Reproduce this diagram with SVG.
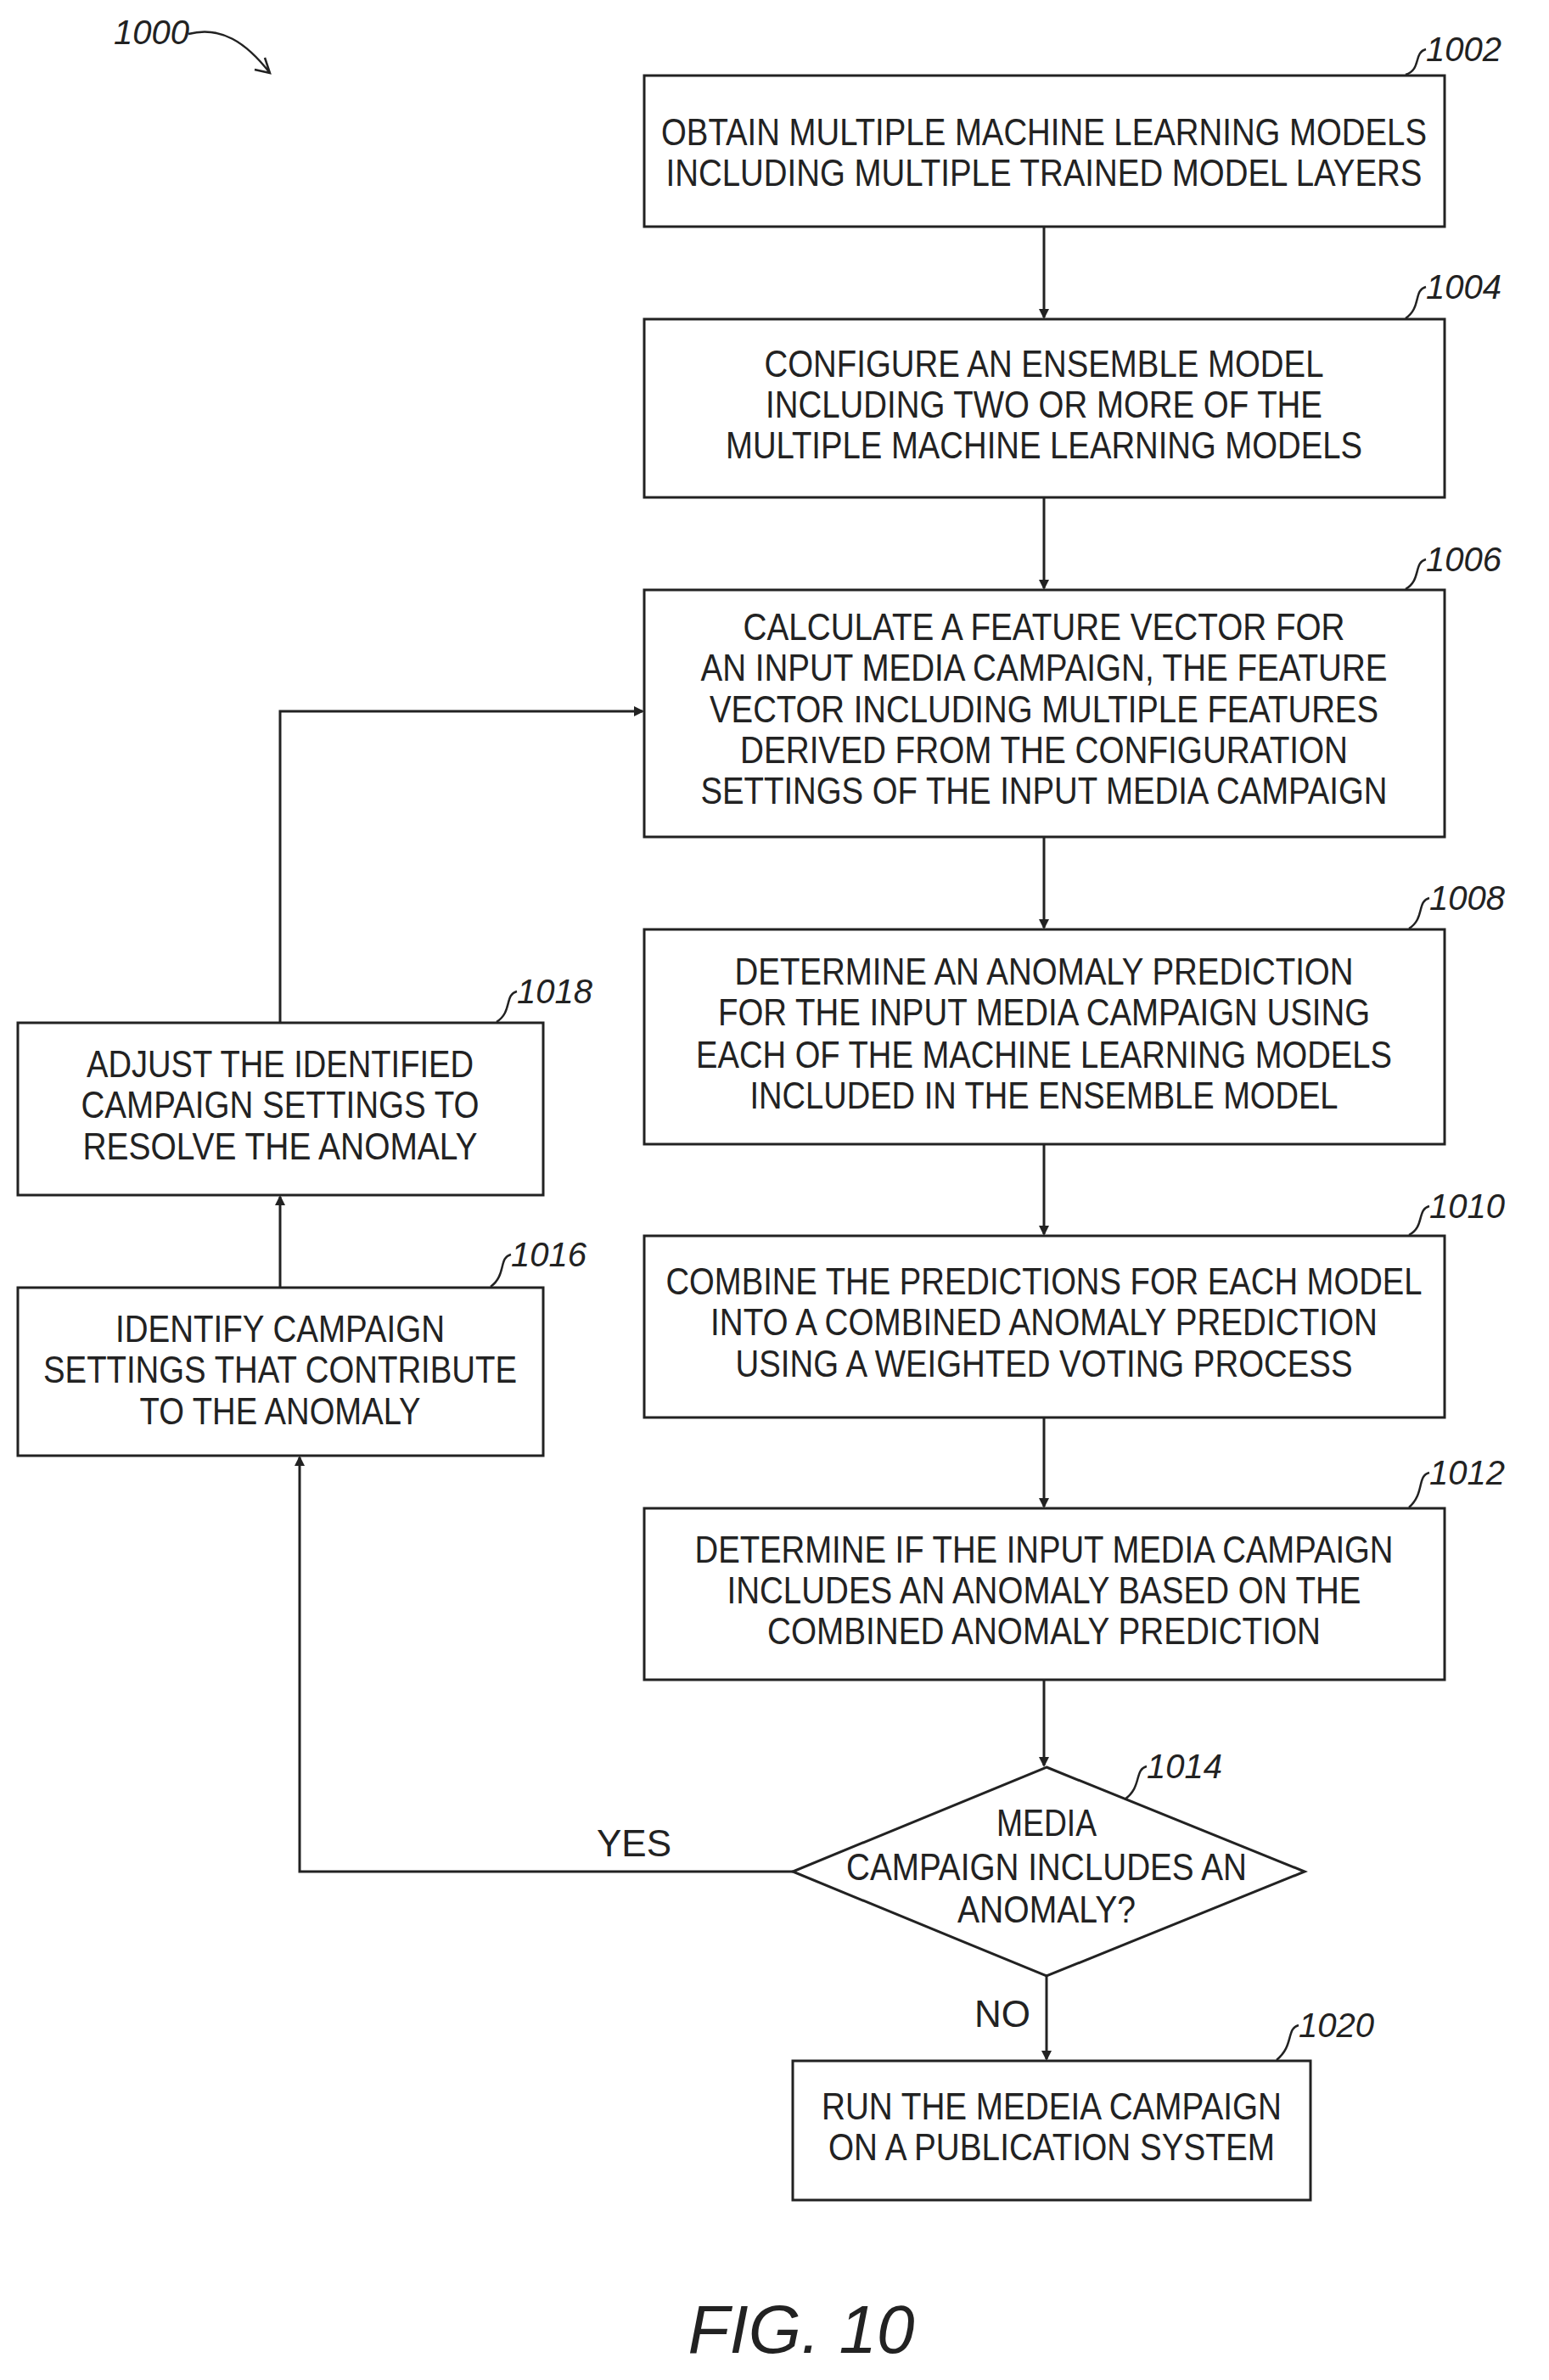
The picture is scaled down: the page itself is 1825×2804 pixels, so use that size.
<svg xmlns="http://www.w3.org/2000/svg" width="1825" height="2804" viewBox="0 0 1825 2804">
<style>
.b{fill:#fff;stroke:#222;stroke-width:3}
.t{font-family:"Liberation Sans",Arial,sans-serif;font-size:44px;fill:#222;text-anchor:middle}
.l{font-family:"Liberation Sans",Arial,sans-serif;font-size:40px;font-style:italic;fill:#222}
.c{fill:none;stroke:#222;stroke-width:3}
.q{fill:none;stroke:#222;stroke-width:2.5}
</style>
<defs><marker id="a" markerWidth="12" markerHeight="12" refX="10" refY="6" orient="auto" markerUnits="userSpaceOnUse"><path d="M0,0 L12,6 L0,12 Z" fill="#222"/></marker></defs>
<text class="l" x="134" y="52">1000</text>
<path class="q" d="M222,40 C260,30 290,50 318,86 M300,82 L318,86 L312,68"/>
<g id="n1002"><rect class="b" x="759" y="89" width="943" height="178"/>
<text class="t" x="1230" y="171" textLength="902" lengthAdjust="spacingAndGlyphs">OBTAIN MULTIPLE MACHINE LEARNING MODELS</text>
<text class="t" x="1230" y="219" textLength="891" lengthAdjust="spacingAndGlyphs">INCLUDING MULTIPLE TRAINED MODEL LAYERS</text>
<text class="l" x="1680" y="72">1002</text><path class="q" d="M1680,58 C1665,62 1675,82 1656,88"/></g>
<g id="n1004"><rect class="b" x="759" y="376" width="943" height="210"/>
<text class="t" x="1230" y="444" textLength="659" lengthAdjust="spacingAndGlyphs">CONFIGURE AN ENSEMBLE MODEL</text>
<text class="t" x="1230" y="492" textLength="656" lengthAdjust="spacingAndGlyphs">INCLUDING TWO OR MORE OF THE</text>
<text class="t" x="1230" y="540" textLength="750" lengthAdjust="spacingAndGlyphs">MULTIPLE MACHINE LEARNING MODELS</text>
<text class="l" x="1680" y="352">1004</text><path class="q" d="M1680,338 C1665,342 1675,362 1656,375"/></g>
<g id="n1006"><rect class="b" x="759" y="695" width="943" height="291"/>
<text class="t" x="1230" y="754" textLength="709" lengthAdjust="spacingAndGlyphs">CALCULATE A FEATURE VECTOR FOR</text>
<text class="t" x="1230" y="802" textLength="809" lengthAdjust="spacingAndGlyphs">AN INPUT MEDIA CAMPAIGN, THE FEATURE</text>
<text class="t" x="1230" y="851" textLength="788" lengthAdjust="spacingAndGlyphs">VECTOR INCLUDING MULTIPLE FEATURES</text>
<text class="t" x="1230" y="899" textLength="716" lengthAdjust="spacingAndGlyphs">DERIVED FROM THE CONFIGURATION</text>
<text class="t" x="1230" y="947" textLength="809" lengthAdjust="spacingAndGlyphs">SETTINGS OF THE INPUT MEDIA CAMPAIGN</text>
<text class="l" x="1680" y="673">1006</text><path class="q" d="M1680,659 C1665,663 1675,683 1656,694"/></g>
<g id="n1008"><rect class="b" x="759" y="1095" width="943" height="253"/>
<text class="t" x="1230" y="1160" textLength="729" lengthAdjust="spacingAndGlyphs">DETERMINE AN ANOMALY PREDICTION</text>
<text class="t" x="1230" y="1208" textLength="768" lengthAdjust="spacingAndGlyphs">FOR THE INPUT MEDIA CAMPAIGN USING</text>
<text class="t" x="1230" y="1258" textLength="820" lengthAdjust="spacingAndGlyphs">EACH OF THE MACHINE LEARNING MODELS</text>
<text class="t" x="1230" y="1306" textLength="693" lengthAdjust="spacingAndGlyphs">INCLUDED IN THE ENSEMBLE MODEL</text>
<text class="l" x="1684" y="1072">1008</text><path class="q" d="M1684,1058 C1669,1062 1679,1082 1660,1094"/></g>
<g id="n1010"><rect class="b" x="759" y="1456" width="943" height="214"/>
<text class="t" x="1230" y="1525" textLength="891" lengthAdjust="spacingAndGlyphs">COMBINE THE PREDICTIONS FOR EACH MODEL</text>
<text class="t" x="1230" y="1573" textLength="786" lengthAdjust="spacingAndGlyphs">INTO A COMBINED ANOMALY PREDICTION</text>
<text class="t" x="1230" y="1622" textLength="727" lengthAdjust="spacingAndGlyphs">USING A WEIGHTED VOTING PROCESS</text>
<text class="l" x="1684" y="1435">1010</text><path class="q" d="M1684,1421 C1669,1425 1679,1445 1660,1455"/></g>
<g id="n1012"><rect class="b" x="759" y="1777" width="943" height="202"/>
<text class="t" x="1230" y="1841" textLength="823" lengthAdjust="spacingAndGlyphs">DETERMINE IF THE INPUT MEDIA CAMPAIGN</text>
<text class="t" x="1230" y="1889" textLength="747" lengthAdjust="spacingAndGlyphs">INCLUDES AN ANOMALY BASED ON THE</text>
<text class="t" x="1230" y="1937" textLength="652" lengthAdjust="spacingAndGlyphs">COMBINED ANOMALY PREDICTION</text>
<text class="l" x="1684" y="1749">1012</text><path class="q" d="M1684,1735 C1669,1739 1679,1759 1660,1776"/></g>
<g id="n1014"><path class="b" d="M1233,2082 L1537,2205 L1233,2328 L934,2205 Z"/>
<text class="t" x="1233" y="2163" textLength="118" lengthAdjust="spacingAndGlyphs">MEDIA</text>
<text class="t" x="1233" y="2215" textLength="472" lengthAdjust="spacingAndGlyphs">CAMPAIGN INCLUDES AN</text>
<text class="t" x="1233" y="2265" textLength="210" lengthAdjust="spacingAndGlyphs">ANOMALY?</text>
<text class="l" x="1351" y="2095">1014</text><path class="q" d="M1351,2081 C1336,2085 1346,2105 1325,2120"/></g>
<g id="n1020"><rect class="b" x="934" y="2428" width="610" height="164"/>
<text class="t" x="1239" y="2497" textLength="542" lengthAdjust="spacingAndGlyphs">RUN THE MEDEIA CAMPAIGN</text>
<text class="t" x="1239" y="2545" textLength="526" lengthAdjust="spacingAndGlyphs">ON A PUBLICATION SYSTEM</text>
<text class="l" x="1530" y="2400">1020</text><path class="q" d="M1530,2386 C1515,2390 1525,2410 1504,2427"/></g>
<g id="n1018"><rect class="b" x="21" y="1205" width="619" height="203"/>
<text class="t" x="330" y="1269" textLength="456" lengthAdjust="spacingAndGlyphs">ADJUST THE IDENTIFIED</text>
<text class="t" x="330" y="1317" textLength="469" lengthAdjust="spacingAndGlyphs">CAMPAIGN SETTINGS TO</text>
<text class="t" x="330" y="1366" textLength="465" lengthAdjust="spacingAndGlyphs">RESOLVE THE ANOMALY</text>
<text class="l" x="609" y="1182">1018</text><path class="q" d="M609,1168 C594,1172 604,1192 585,1204"/></g>
<g id="n1016"><rect class="b" x="21" y="1517" width="619" height="198"/>
<text class="t" x="330" y="1581" textLength="388" lengthAdjust="spacingAndGlyphs">IDENTIFY CAMPAIGN</text>
<text class="t" x="330" y="1629" textLength="558" lengthAdjust="spacingAndGlyphs">SETTINGS THAT CONTRIBUTE</text>
<text class="t" x="330" y="1678" textLength="331" lengthAdjust="spacingAndGlyphs">TO THE ANOMALY</text>
<text class="l" x="602" y="1492">1016</text><path class="q" d="M602,1478 C587,1482 597,1502 578,1516"/></g>
<g id="connectors">
<path class="c" marker-end="url(#a)" d="M1230,267 V374"/>
<path class="c" marker-end="url(#a)" d="M1230,586 V693"/>
<path class="c" marker-end="url(#a)" d="M1230,986 V1093"/>
<path class="c" marker-end="url(#a)" d="M1230,1348 V1454"/>
<path class="c" marker-end="url(#a)" d="M1230,1670 V1775"/>
<path class="c" marker-end="url(#a)" d="M1230,1979 V2080"/>
<path class="c" marker-end="url(#a)" d="M1233,2328 V2426"/>
<path class="c" marker-end="url(#a)" d="M934,2205 H353 V1717"/>
<path class="c" marker-end="url(#a)" d="M330,1517 V1410"/>
<path class="c" marker-end="url(#a)" d="M330,1205 V838 H757"/>
<text class="t" x="747" y="2187">YES</text>
<text class="t" x="1181" y="2388">NO</text>
</g>
<text x="944" y="2772" font-family="Liberation Sans,Arial,sans-serif" font-size="80" font-style="italic" fill="#222" text-anchor="middle">FIG. 10</text>
</svg>
